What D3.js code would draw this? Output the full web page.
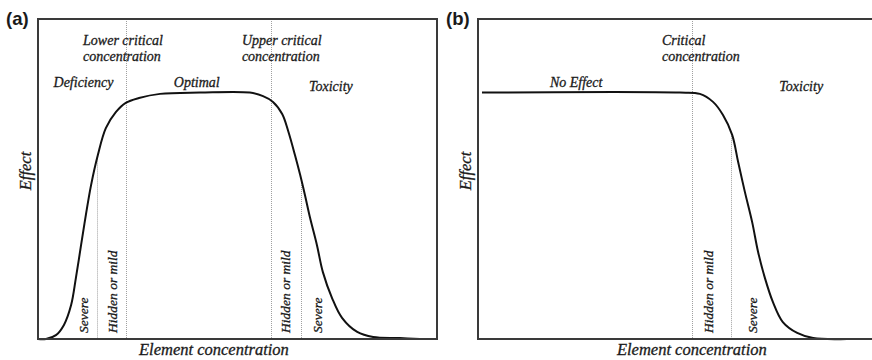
<!DOCTYPE html>
<html>
<head>
<meta charset="utf-8">
<script src="https://cdn.jsdelivr.net/npm/d3@7"></script>
<style>
  body { margin: 0; background: #fff; }
</style>
</head>
<body>
<div id="chart"></div>
<script>
// panel (a): effect vs concentration
const concA = [0, 2, 4.5, 6.5, 8.3, 9.5, 10.8, 12, 13.3, 15, 17, 19.5, 22, 25.3, 30.6, 40.6,
  53.1, 56.4, 58.9, 61.2, 62.7, 64.4, 65.7, 66.9, 68.2, 69.9, 71.4, 73.7, 76.2, 80, 84, 90.7, 95.7];
const effectA = [0, 0, 1.2, 4.4, 10.6, 19.1, 29.4, 38.8, 48.1, 57.5, 65.9, 70.9, 73.8, 75.3, 76.6, 77,
  77, 75.9, 74.1, 70.3, 65, 57.5, 51.3, 45, 37.8, 29.4, 20.9, 12.8, 6.6, 2.2, 0.6, 0.3, 0];

// panel (b)
const concB = [1, 50.6, 55.6, 58.9, 61.4, 63.7, 65.2, 66.9, 68.7, 70.2, 71.9, 73.9, 76.4, 80, 84, 92.5];
const effectB = [77, 77, 76.6, 74.1, 70, 63.8, 55.3, 45.9, 36.6, 27.2, 19.1, 11.6, 5.3, 1.9, 0.3, 0];

// threshold lines: concentration and the effect level where the line starts
const criticalA = [22, 58.4];
const severityA = [14.8, 65.9];
const severityTopA = [57, 50];
const criticalB = [53.6];
const severityB = [63.4];
const severityTopB = [64];

const xLabel = "Element concentration";
const yLabel = "Effect";

const width = 872;
const height = 360;
const serif = "'Liberation Serif', 'Times New Roman', serif";

const svg = d3.select("#chart")
  .append("svg")
  .attr("width", width)
  .attr("height", height);

const y = d3.scaleLinear().domain([0, 100]).range([339, 19]);

// italic serif label, a bit heavier like the scanned figure
function addText(g, size) {
  return g.append("text")
    .attr("font-family", serif)
    .attr("font-style", "italic")
    .attr("font-size", size)
    .attr("fill", "#1a1a1a")
    .attr("stroke", "#1a1a1a")
    .attr("stroke-width", 0.3);
}

function drawPanel(cfg) {
  const x = d3.scaleLinear().domain([0, 100]).range([cfg.left, cfg.left + 399]);
  const g = svg.append("g");

  // dotted threshold lines
  g.selectAll("line.crit")
    .data(cfg.critical)
    .enter()
    .append("line")
    .attr("x1", d => Math.round(x(d)) + 0.5)
    .attr("x2", d => Math.round(x(d)) + 0.5)
    .attr("y1", y(100))
    .attr("y2", y(0))
    .attr("stroke", "#a0a0a0")
    .attr("stroke-dasharray", "1,1");

  g.selectAll("line.sev")
    .data(cfg.severity)
    .enter()
    .append("line")
    .attr("x1", d => Math.round(x(d)) + 0.5)
    .attr("x2", d => Math.round(x(d)) + 0.5)
    .attr("y1", (d, i) => y(cfg.severityTop[i]))
    .attr("y2", y(0))
    .attr("stroke", "#a0a0a0")
    .attr("stroke-dasharray", "1,1");

  // response curve
  const line = d3.line()
    .x((d, i) => x(cfg.conc[i]))
    .y(d => y(d))
    .curve(d3.curveCatmullRom.alpha(0.5));

  g.append("path")
    .datum(cfg.effect)
    .attr("d", line)
    .attr("fill", "none")
    .attr("stroke", "#111")
    .attr("stroke-width", 2);

  // frame
  g.append("path")
    .attr("d", `M${x(0)},${y(0)}V${y(100)}H${x(100)}V${y(0)}Z`)
    .attr("fill", "none")
    .attr("stroke", "#3a3a3a")
    .attr("stroke-width", 2);

  // horizontal labels
  cfg.labels.forEach(l => {
    addText(g, 14)
      .attr("x", x(l.u))
      .attr("y", y(l.v))
      .attr("text-anchor", l.anchor || "middle")
      .text(l.text);
  });

  // vertical severity labels
  cfg.vlabels.forEach(l => {
    addText(g, 13.5)
      .attr("transform", `translate(${x(l.u)},${y(1.9)}) rotate(-90)`)
      .attr("dy", "0.35em")
      .text(l.text);
  });

  // axis titles
  addText(g, 16.5)
    .attr("transform", `translate(${cfg.left - 13},171) rotate(-90)`)
    .attr("dy", "0.35em")
    .attr("text-anchor", "middle")
    .text(yLabel);

  addText(g, 16.5)
    .attr("x", x(cfg.xTitleU))
    .attr("y", 355)
    .attr("text-anchor", "middle")
    .text(xLabel);

  svg.append("text")
    .attr("font-family", "'Liberation Sans', Arial, sans-serif")
    .attr("font-weight", "bold")
    .attr("font-size", 18.5)
    .attr("fill", "#1a1a1a")
    .attr("x", cfg.left - 32)
    .attr("y", 25)
    .text(cfg.tag);
}

drawPanel({
  left: 38,
  tag: "(a)",
  conc: concA,
  effect: effectA,
  critical: criticalA,
  severity: severityA,
  severityTop: severityTopA,
  xTitleU: 44.1,
  labels: [
    { text: "Lower critical", u: 11.3, v: 91.9, anchor: "start" },
    { text: "concentration", u: 11.3, v: 86.9, anchor: "start" },
    { text: "Upper critical", u: 51.1, v: 91.9, anchor: "start" },
    { text: "concentration", u: 51.1, v: 86.9, anchor: "start" },
    { text: "Deficiency", u: 11.4, v: 78.75 },
    { text: "Optimal", u: 39.8, v: 78.75 },
    { text: "Toxicity", u: 73.4, v: 77.5 }
  ],
  vlabels: [
    { text: "Severe", u: 11.3 },
    { text: "Hidden or mild", u: 18.6 },
    { text: "Hidden or mild", u: 62 },
    { text: "Severe", u: 69.9 }
  ]
});

drawPanel({
  left: 478,
  tag: "(b)",
  conc: concB,
  effect: effectB,
  critical: criticalB,
  severity: severityB,
  severityTop: severityTopB,
  xTitleU: 53.6,
  labels: [
    { text: "Critical", u: 46.1, v: 91.9, anchor: "start" },
    { text: "concentration", u: 46.1, v: 86.9, anchor: "start" },
    { text: "No Effect", u: 24.6, v: 78.75 },
    { text: "Toxicity", u: 81, v: 77.5 }
  ],
  vlabels: [
    { text: "Hidden or mild", u: 57.6 },
    { text: "Severe", u: 68.7 }
  ]
});
</script>
</body>
</html>
